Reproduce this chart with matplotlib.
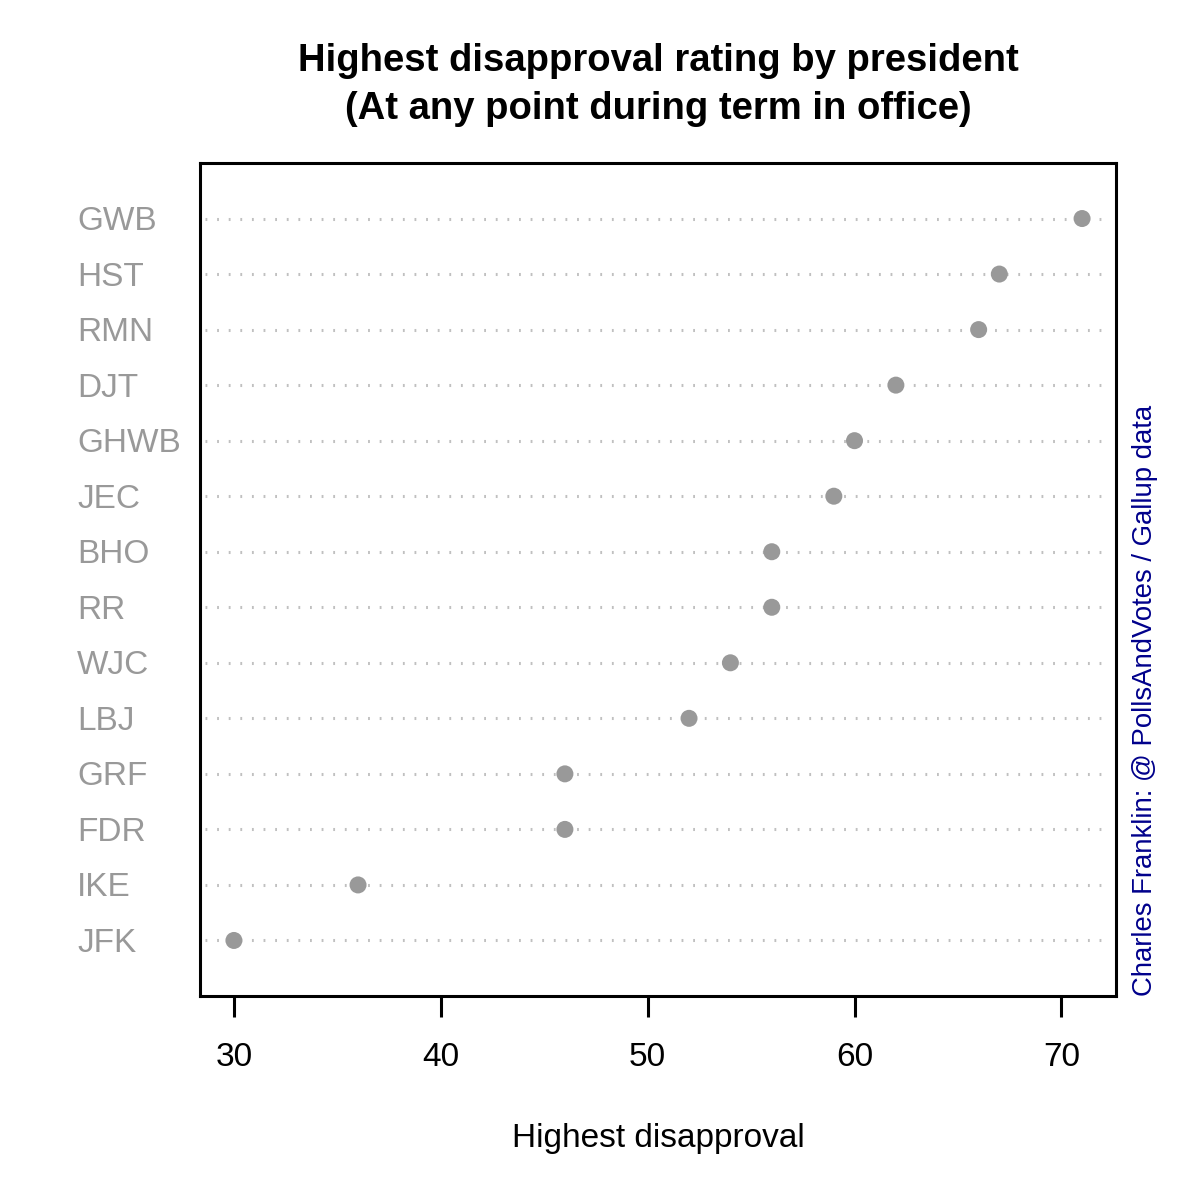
import numpy as np
import matplotlib.pyplot as plt

plt.rcParams["font.family"] = ["Liberation Sans", "DejaVu Sans"]

presidents = ["GWB", "HST", "RMN", "DJT", "GHWB", "JEC", "BHO", "RR",
              "WJC", "LBJ", "GRF", "FDR", "IKE", "JFK"]
disapproval = [71, 67, 66, 62, 60, 59, 56, 56, 54, 52, 46, 46, 36, 30]
x_ticks = [30, 40, 50, 60, 70]

fig = plt.figure(figsize=(12, 12), dpi=100)
ax = fig.add_axes([200 / 1200, 204 / 1200, 916 / 1200, 833 / 1200])

# rows from top to bottom
ypos = np.arange(len(presidents), 0, -1)
span = max(disapproval) - min(disapproval)
xmin = min(disapproval) - 0.04 * span
xmax = max(disapproval) + 0.04 * span

for y in ypos:
    ax.plot([xmin + 0.25, xmax - 0.3], [y, y], color="#c0c0c0",
            linestyle=(0, (0.6, 3.2)), linewidth=2.2, zorder=1)
ax.scatter(disapproval, ypos, s=150, color="#999999", zorder=3, edgecolor="none")

ax.set_xlim(xmin, xmax)
ax.set_ylim(0, len(presidents) + 1)
ax.set_yticks([])
ax.set_xticks(x_ticks)
ax.tick_params(axis="x", direction="out", length=15, width=2.2, pad=18,
               labelsize=24, colors="black")
for sp in ax.spines.values():
    sp.set_linewidth(2.2)

for name, y in zip(presidents, ypos):
    ypix = ax.transData.transform((0, y))[1] - 3
    ax.text(77 / 1200, ypix / 1200, name,
            transform=fig.transFigure, ha="left", va="center",
            fontsize=24, color="#999999")

fig.text(658 / 1200, 1 - 1139 / 1200, "Highest disapproval",
         ha="center", va="center", fontsize=24)
fig.text(658 / 1200, 1 - 85 / 1200,
         "Highest disapproval rating by president\n(At any point during term in office)",
         ha="center", va="center", fontsize=27.5, fontweight="bold", linespacing=1.4)
fig.text(1145 / 1200, 204 / 1200, "Charles Franklin: @ PollsAndVotes / Gallup data",
         rotation=90, ha="center", va="bottom", fontsize=19.8, color="#00008B")

fig.savefig("out.png", dpi=100)
